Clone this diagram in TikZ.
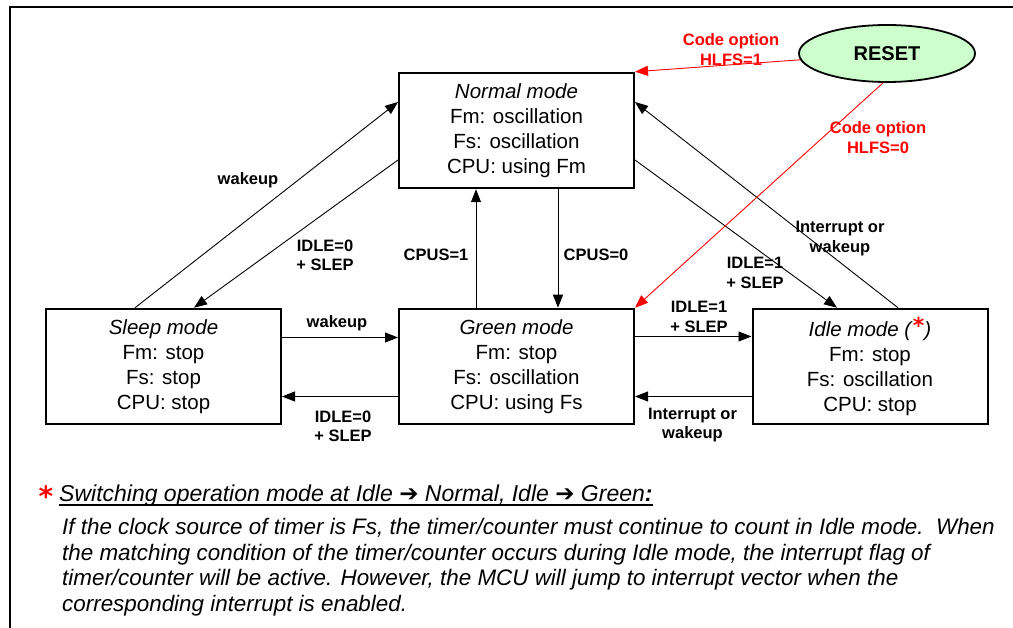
\documentclass[tikz,border=0pt]{standalone}
\usepackage{fontspec}
\setmainfont{Liberation Sans}
\newfontfamily\dejavu{DejaVu Sans}
\usetikzlibrary{arrows.meta,calc,shapes.geometric}
\definecolor{resetgreen}{HTML}{CCFFCC}
\newcommand{\bigarrow}{{\dejavu\upshape\bfseries\fontsize{23}{23}\selectfont ➔}}
\begin{document}
\begin{tikzpicture}[x=1pt,y=-1pt,
  modebox/.style={draw,line width=2pt,minimum width=235pt,minimum height=115.5pt,inner sep=0pt,align=center,font=\fontsize{20.5}{25}\selectfont},
  conn/.style={line width=0.9pt,-{Triangle[length=13pt,width=10pt]}},
  rconn/.style={conn,color=red},
  lbl/.style={font=\fontsize{16.5}{19.5}\selectfont\bfseries,align=center,inner sep=0pt},
  rlbl/.style={lbl,text=red},
  ftxt/.style={anchor=base west,inner sep=0pt,font=\fontsize{22.4}{26}\selectfont\itshape},
]
\useasboundingbox (0,0) rectangle (1013,628);
% frame
\draw[line width=2.2pt] (10,640) -- (10,7) -- (1030,7);

% mode boxes
\node[modebox] (normal) at (516.5,130.5) {\textit{Normal mode}\\Fm: oscillation\\Fs: oscillation\\CPU: using Fm};
\node[modebox] (green) at (516.5,366.5) {\textit{Green mode}\\Fm: stop\\Fs: oscillation\\CPU: using Fs};
\node[modebox] (sleep) at (163.5,366.5) {\textit{Sleep mode}\\Fm: stop\\Fs: stop\\CPU: stop};
\node[modebox] (idle) at (870,366.5) {\textit{Idle mode (}{\color{red}\raisebox{3pt}{\dejavu\bfseries\fontsize{22}{22}\selectfont *}}\textit{)}\\Fm: stop\\Fs: oscillation\\CPU: stop};
\node[ellipse,draw,line width=1.8pt,fill=resetgreen,minimum width=176pt,minimum height=57pt,inner sep=0pt,font=\fontsize{20}{24}\selectfont\bfseries] (reset) at (887,53.5) {RESET};

% connectors
\draw[conn] ([xshift=-28.5pt]sleep.north) -- ([yshift=28.5pt]normal.west);
\draw[conn] ([yshift=-29.5pt]normal.west) -- ([xshift=30.5pt]sleep.north);
\draw[conn] ([xshift=41.5pt]normal.south) -- ([xshift=41.5pt]green.north);
\draw[conn] ([xshift=-40.5pt]green.north) -- ([xshift=-40.5pt]normal.south);
\draw[conn] ([yshift=29pt]sleep.east) -- ([yshift=29pt]green.west);
\draw[conn] ([yshift=-30pt]green.west) -- ([yshift=-30pt]sleep.east);
\draw[conn] ([yshift=30pt]green.east) -- ([yshift=30pt]idle.west);
\draw[conn] ([yshift=-30pt]idle.west) -- ([yshift=-30pt]green.east);
\draw[conn] ([yshift=-29.5pt]normal.east) -- ([xshift=-33pt]idle.north);
\draw[conn] ([xshift=28pt]idle.north) -- ([yshift=28.5pt]normal.east);
\draw[rconn] (reset) -- (normal.north east);
\draw[rconn] ([xshift=-4pt]reset.south) -- (green.north east);

% labels
\node[rlbl] (l1) at (731,49.5) {Code option\\HLFS=1};
\node[rlbl] (l2) at (878,137.5) {Code option\\HLFS=0};
\node[lbl] (l3) at (248,180) {wakeup};
\node[lbl] (l4) at (325,255.5) {IDLE=0\\+ SLEP};
\node[lbl] (l5) at (436,255) {CPUS=1};
\node[lbl] (l6) at (596,255) {CPUS=0};
\node[lbl] (l7) at (337,323) {wakeup};
\node[lbl] (l8) at (343,426.5) {IDLE=0\\+ SLEP};
\node[lbl] (l9) at (699,317) {IDLE=1\\+ SLEP};
\node[lbl] (l10) at (692.5,425) {Interrupt or\\wakeup};
\node[lbl] (l11) at (755,273) {IDLE=1\\+ SLEP};
\node[lbl] (l12) at (840,238.5) {Interrupt or\\wakeup};

% footnote
\node[anchor=base,inner sep=0pt,text=red,font=\dejavu\bfseries\fontsize{28}{28}\selectfont] (ast) at (46,507) {*};
\node[ftxt,font=\fontsize{23}{26}\selectfont\itshape] (fnhead) at (59,501) {Switching operation mode at Idle \bigarrow\ Normal, Idle \bigarrow\ Green\textbf{:}};
\draw[line width=1.4pt] ([yshift=-4pt]fnhead.base west) -- ([yshift=-4pt]fnhead.base east);
\node[ftxt] (fn1) at (62,534) {If the clock source of timer is Fs, the timer/counter must continue to count in Idle mode.\ \ When};
\node[ftxt] (fn2) at (62,560) {the matching condition of the timer/counter occurs during Idle mode, the interrupt flag of};
\node[ftxt] (fn3) at (62,585.5) {timer/counter will be active. However, the MCU will jump to interrupt vector when the};
\node[ftxt] (fn4) at (62,611) {corresponding interrupt is enabled.};
\end{tikzpicture}
\end{document}
